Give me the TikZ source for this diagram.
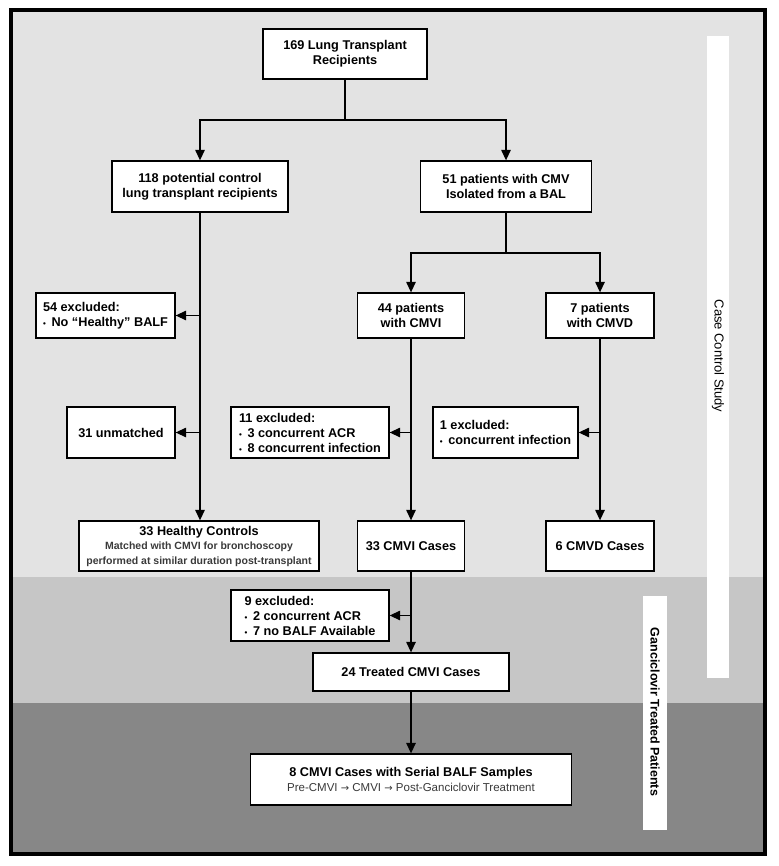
\documentclass[tikz,border=0pt]{standalone}
\usepackage{fontspec}
\setmainfont{Liberation Sans}
\newfontfamily\arrowfont{DejaVu Sans}
\usetikzlibrary{arrows.meta}
\usetikzlibrary{positioning}
\definecolor{bandlight}{HTML}{E3E3E3}
\definecolor{bandmid}{HTML}{C6C6C6}
\definecolor{banddark}{HTML}{878787}
\definecolor{subgrey}{HTML}{3A3A3A}
\newcommand{\bulitem}{{\fontsize{8}{8}\selectfont\textbullet}\hspace{0.45em}}
\newcommand{\toarrow}{{\arrowfont\fontsize{10}{10}\selectfont\char"2192}}
\tikzset{flowbox/.style={
          draw, line width=1.3pt, fill=white,
          minimum height=51pt, inner sep=2pt,
          font=\bfseries\fontsize{12.7}{15}\selectfont, align=center
          },
        exclbox/.style={flowbox, align=left},
        flowline/.style={line width=1.3pt},
        flowarrow/.style={flowline, -{Triangle[length=10.5pt,width=9.5pt]}},
        sidebar/.style={fill=white},
}

\begin{document}
\begin{tikzpicture}[x=1pt, y=-1pt]
      \useasboundingbox (0,0) rectangle (778,866);
      % BACKGROUND BANDS
      \fill[bandlight] (11,10) rectangle (765,577);
      \fill[bandmid] (11,577) rectangle (765,703);
      \fill[banddark] (11,703) rectangle (765,854);
      \draw[line width=4pt] (11,10) rectangle (765,854);
      \fill[sidebar] (707,36) rectangle (729,678);
      \fill[sidebar] (643,596) rectangle (667,830);
      \node[rotate=-90, font=\fontsize{13}{15}\selectfont] (ccstudy) at (718,356) {Case Control Study};
      \node[rotate=-90, font=\bfseries\fontsize{12.5}{15}\selectfont] (gtpatients) at (655,712) {Ganciclovir Treated Patients};

      % TOP OF THE TREE
      \node[flowbox, minimum width=164pt, minimum height=50pt] (recip) at (345,54) {169 Lung Transplant\\Recipients};
      \node[flowbox, minimum width=176pt] (ctrl) at (200,186.5) {118 potential control\\lung transplant recipients};
      \node[flowbox, minimum width=171pt] (cmv) at (506,186.5) {51 patients with CMV\\Isolated from a BAL};

      % SECOND ROW
      \node[exclbox, minimum width=139pt, minimum height=45pt] (excl54) at (105.5,315.5) {54 excluded:\\\bulitem No ``Healthy'' BALF};
      \node[flowbox, minimum width=107pt, minimum height=45pt] (cmvi) at (411,315.5) {44 patients\\with CMVI};
      \node[flowbox, minimum width=108pt, minimum height=45pt] (cmvd) at (600,315.5) {7 patients\\with CMVD};

      % EXCLUSIONS
      \node[flowbox, minimum width=108pt] (unmatched) at (121,432.5) {31 unmatched};
      \node[exclbox, minimum width=158pt] (excl11) at (310,432.5) {11 excluded:\\\bulitem 3 concurrent ACR\\\bulitem 8 concurrent infection};
      \node[exclbox, minimum width=145pt] (excl1) at (505.5,432.5) {1 excluded:\\\bulitem concurrent infection};

      % CASES
      \node[flowbox, minimum width=240pt, minimum height=50pt] (healthy) at (199,546) {33 Healthy Controls\\[-1pt]
        {\color{subgrey}\fontsize{10.5}{13}\selectfont Matched with CMVI for bronchoscopy}\\
        {\color{subgrey}\fontsize{10.5}{13}\selectfont performed at similar duration post-transplant}};
      \node[flowbox, minimum width=107pt, minimum height=50pt] (cmvicases) at (411,546) {33 CMVI Cases};
      \node[flowbox, minimum width=108pt, minimum height=50pt] (cmvdcases) at (600,546) {6 CMVD Cases};

      % GANCICLOVIR TREATED
      \node[exclbox, minimum width=158pt] (excl9) at (310,615.5) {9 excluded:\\\bulitem 2 concurrent ACR\\\bulitem 7 no BALF Available};
      \node[flowbox, minimum width=196pt, minimum height=38pt] (treated) at (411,672) {24 Treated CMVI Cases};
      \node[flowbox, minimum width=321pt] (serial) at (411,779.5) {8 CMVI Cases with Serial BALF Samples\\
        {\mdseries\color{subgrey}\fontsize{11.5}{14}\selectfont Pre-CMVI \toarrow{} CMVI \toarrow{} Post-Ganciclovir Treatment}};

      % WIRING
      \coordinate (fork1) at (recip.south |- 0,120);
      \coordinate (fork2) at (cmv.south |- 0,253);
      \draw[flowarrow] (recip.south) -- (fork1) -| (ctrl.north);
      \draw[flowarrow] (fork1) -| (cmv.north);
      \draw[flowarrow] (cmv.south) -- (fork2) -| (cmvi.north);
      \draw[flowarrow] (fork2) -| (cmvd.north);

      \draw[flowarrow] (ctrl.south) -- (ctrl.south |- healthy.north);
      \draw[flowarrow] (ctrl.south |- excl54.east) -- (excl54.east);
      \draw[flowarrow] (ctrl.south |- unmatched.east) -- (unmatched.east);

      \draw[flowarrow] (cmvi.south) -- (cmvicases.north);
      \draw[flowarrow] (cmvi.south |- excl11.east) -- (excl11.east);
      \draw[flowarrow] (cmvd.south) -- (cmvdcases.north);
      \draw[flowarrow] (cmvd.south |- excl1.east) -- (excl1.east);

      \draw[flowarrow] (cmvicases.south) -- (cmvicases.south |- treated.north);
      \draw[flowarrow] (cmvicases.south |- excl9.east) -- (excl9.east);
      \draw[flowarrow] (treated.south) -- (treated.south |- serial.north);
\end{tikzpicture}
\end{document}
